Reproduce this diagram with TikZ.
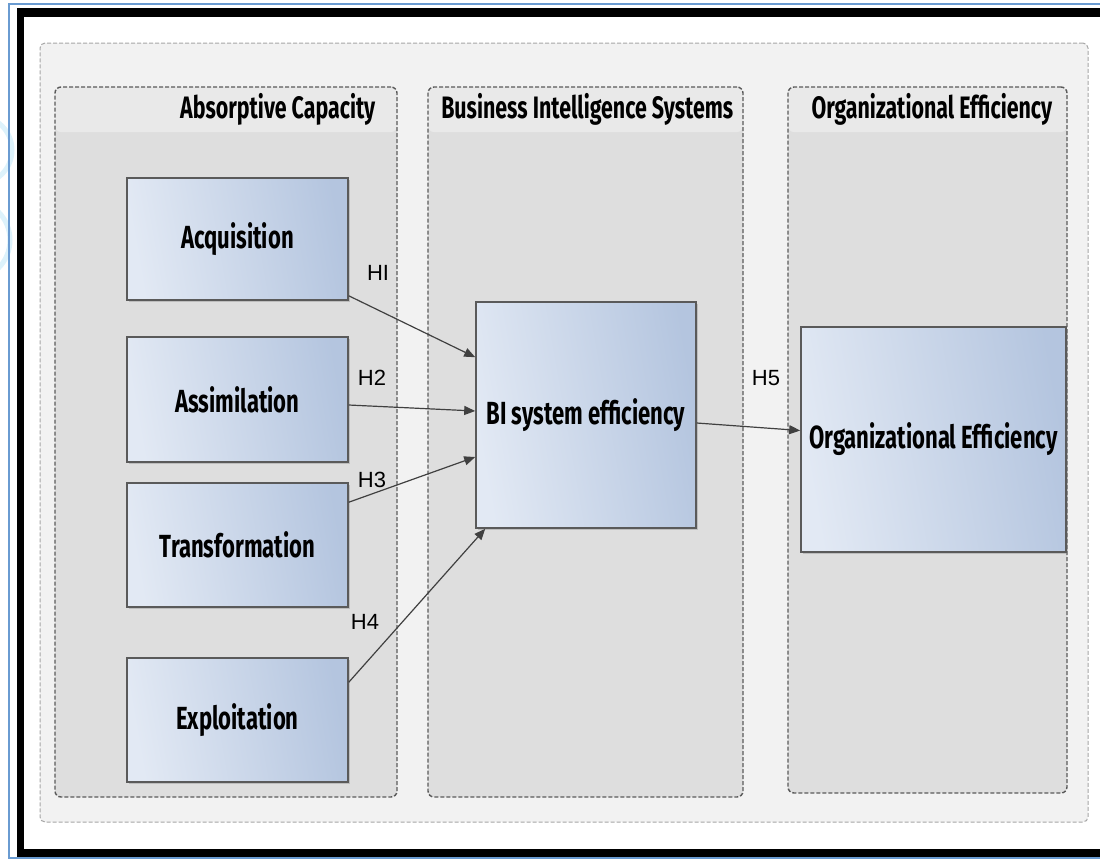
\documentclass[tikz,border=0pt]{standalone}
\usepackage{fontspec}
\setmainfont{Liberation Sans}
\newfontfamily\condfont[FakeStretch=0.69]{Fira Sans}
\usetikzlibrary{arrows.meta,shadows}

\definecolor{framebl}{HTML}{6A9BD1}
\definecolor{logocyan}{HTML}{DDF2FB}
\definecolor{outerfill}{HTML}{F2F2F2}
\definecolor{headfill}{HTML}{E9E9E9}
\definecolor{bodyfill}{HTML}{DEDEDE}
\definecolor{boxlite}{HTML}{E2E9F4}
\definecolor{boxblue}{HTML}{B4C5DF}
\definecolor{dashgray}{HTML}{5A5A5A}

\begin{document}
\begin{tikzpicture}[x=0.5pt,y=-0.5pt,
  outer/.style={draw=gray!70, dash pattern=on 2pt off 1pt, line width=0.5pt,
    fill=outerfill, rounded corners=2.5pt, inner sep=0pt},
  panel/.style={draw=dashgray, dash pattern=on 2pt off 1pt, line width=0.7pt,
    fill=bodyfill, rounded corners=3pt, inner sep=0pt,
    path picture={\fill[headfill] (path picture bounding box.north west)
      rectangle ([yshift=-22.5pt]path picture bounding box.north east);}},
  head/.style={font=\condfont\bfseries\fontsize{15.5}{18}\selectfont, inner sep=0pt, anchor=east},
  stage/.style={draw=dashgray, line width=0.8pt, left color=boxlite, right color=boxblue,
    shading angle=100,
    drop shadow={shadow xshift=0.8pt, shadow yshift=-1.2pt, opacity=0.35},
    font=\condfont\bfseries\fontsize{16}{19}\selectfont, inner sep=0pt},
  hyp/.style={font=\fontsize{11}{13}\selectfont, inner sep=0pt},
  link/.style={draw=black!75, line width=0.6pt, -{Triangle[length=5.5pt,width=4.5pt]}}]

  \useasboundingbox (0,0) rectangle (1100,859);

  % page frame
  \begin{scope}
    \clip (0,0) rectangle (17,859);
    \draw[logocyan, line width=2.5pt] (-22,150) circle (34);
    \draw[logocyan, line width=2.5pt] (-30,240) circle (40);
  \end{scope}
  \draw[framebl, line width=1pt] (1100,3.5) -- (8.5,3.5) -- (8.5,858) -- (1100,858);
  \fill[black] (17,8) rectangle (24,857);
  \fill[black] (17,8) rectangle (1100,17);
  \fill[black] (17,849) rectangle (1100,857);

  \node[outer, minimum width=524pt, minimum height=389.5pt]	(model)	at (564,432.5)	{};

  \node[panel, minimum width=171pt, minimum height=355pt]	(absorb)	at (226,442)	{};
  \node[panel, minimum width=157.5pt, minimum height=355pt]	(bis)	at (585.5,442)	{};
  \node[panel, minimum width=139.5pt, minimum height=353pt]	(orgeff)	at (927.5,440)	{};

  \node[head] (absorb-head)	at ([xshift=-11pt,yshift=-11.5pt]absorb.north east)	{Absorptive Capacity};
  \node[head] (bis-head)	at ([xshift=-5pt,yshift=-11.5pt]bis.north east)	{Business Intelligence Systems};
  \node[head] (orgeff-head)	at ([xshift=-7.5pt,yshift=-11.5pt]orgeff.north east)	{Organizational Efficiency};

  \node[stage, minimum width=110.5pt, minimum height=61pt]	(acq)	at (237.5,239)	{Acquisition};
  \node[stage, minimum width=110.5pt, minimum height=62.5pt]	(assim)	at (237.5,399.5)	{Assimilation};
  \node[stage, minimum width=110.5pt, minimum height=62pt]	(trans)	at (237.5,545)	{Transformation};
  \node[stage, minimum width=110.5pt, minimum height=62pt]	(exploit)	at (237.5,720)	{Exploitation};

  \node[stage, minimum width=110pt, minimum height=113pt]	(bi)	at (586,415)	{BI system efficiency};
  \node[stage, minimum width=132.5pt, minimum height=112.5pt]	(org)	at (933.5,439.5)	{Organizational Efficiency};

  \draw[link] ([yshift=2.5pt]acq.south east) -- ([yshift=-28pt]bi.north west);
  \draw[link] ([yshift=-2.75pt]assim.east) -- ([yshift=2pt]bi.west);
  \draw[link] ([yshift=-10pt]trans.north east) -- ([yshift=-21pt]bi.west);
  \draw[link] ([yshift=-12.5pt]exploit.north east) -- ([xshift=5pt]bi.south west);
  \draw[link] ([yshift=-4pt]bi.east) -- ([yshift=4.5pt]org.west);

  \node[hyp] (h1)	at (378,273)	{HI};
  \node[hyp] (h2)	at (372,378)	{H2};
  \node[hyp] (h3)	at (372,480)	{H3};
  \node[hyp] (h4)	at (365,622)	{H4};
  \node[hyp] (h5)	at (766,378)	{H5};
\end{tikzpicture}
\end{document}
